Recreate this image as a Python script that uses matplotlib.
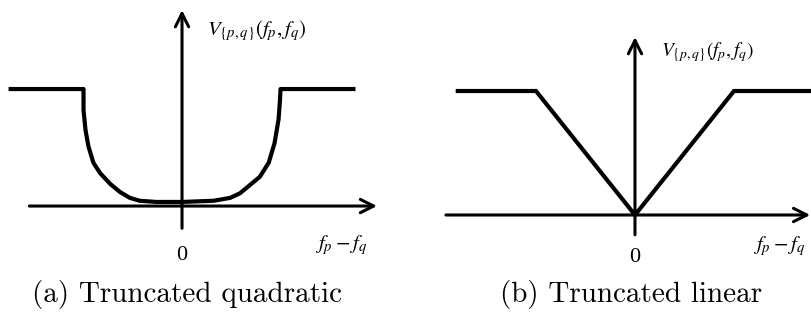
import matplotlib
matplotlib.use('Agg')
import matplotlib.pyplot as plt

# (a) truncated quadratic potential, read as a polyline
quad_x = [-1.74, -1.0, -1.0, -0.98, -0.95, -0.90, -0.83, -0.73, -0.63, -0.53, -0.43, -0.26,
          0.0, 0.32, 0.49, 0.59, 0.69, 0.79, 0.88, 0.94, 0.98, 0.995, 1.0, 1.74]
quad_y = [1.0, 1.0, 0.82, 0.65, 0.51, 0.37, 0.28, 0.19, 0.12, 0.07, 0.045, 0.035,
          0.035, 0.045, 0.07, 0.11, 0.18, 0.25, 0.37, 0.54, 0.74, 0.91, 1.0, 1.0]

# (b) truncated linear potential
lin_x = [-1.79, -1.0, 0.0, 1.0, 1.79]
lin_y = [1.0, 1.0, 0.0, 1.0, 1.0]

captions = ['(a) Truncated quadratic', '(b) Truncated linear']
vlabel = r'$V_{\{p,q\}}\left(f_{p}, f_{q}\right)$'
xlabel = r'$f_p - f_q$'

fig = plt.figure(figsize=(8.12, 3.2), dpi=100)
axa = fig.add_axes([0, 0, 0.5, 1])
axb = fig.add_axes([0.5, 0, 0.5, 1])
axa.set_xlim(-1.848, 2.274)
axa.set_ylim(-0.974, 1.761)
axb.set_xlim(-2.313, 1.788)
axb.set_ylim(-0.847, 1.734)

def draw_axes(ax, x0, x1, y0, y1):
    arrow = dict(arrowstyle='->', lw=2.2, color='black', mutation_scale=24,
                 shrinkA=0, shrinkB=0)
    ax.annotate('', xy=(x1, 0), xytext=(x0, 0), arrowprops=arrow)
    ax.annotate('', xy=(0, y1), xytext=(0, y0), arrowprops=arrow)

draw_axes(axa, -1.55, 1.98, -0.19, 1.675)
draw_axes(axb, -1.91, 1.77, -0.16, 1.435)

axa.plot(quad_x, quad_y, color='black', lw=3.0, solid_joinstyle='round')
axb.plot(lin_x, lin_y, color='black', lw=3.0, solid_joinstyle='miter')

# labels
axa.text(0.254, 1.50, vlabel, fontsize=15, math_fontfamily='stix', ha='left', va='center')
axb.text(0.263, 1.315, vlabel, fontsize=14, math_fontfamily='stix', ha='left', va='center')
axa.text(1.35, -0.33, xlabel, fontsize=15, math_fontfamily='stix', ha='left', va='center')
axb.text(1.19, -0.25, xlabel, fontsize=15, math_fontfamily='stix', ha='left', va='center')
axa.text(0, -0.427, '0', fontsize=16, family='Liberation Serif', ha='center', va='center')
axb.text(0, -0.339, '0', fontsize=16, family='Liberation Serif', ha='center', va='center')

axa.text(0.05, -0.76, captions[0], fontsize=21, family='cmr10', ha='center', va='center')
axb.text(-0.04, -0.645, captions[1], fontsize=21, family='cmr10', ha='center', va='center')

for ax in (axa, axb):
    ax.axis('off')

fig.savefig('out.png', dpi=100)
